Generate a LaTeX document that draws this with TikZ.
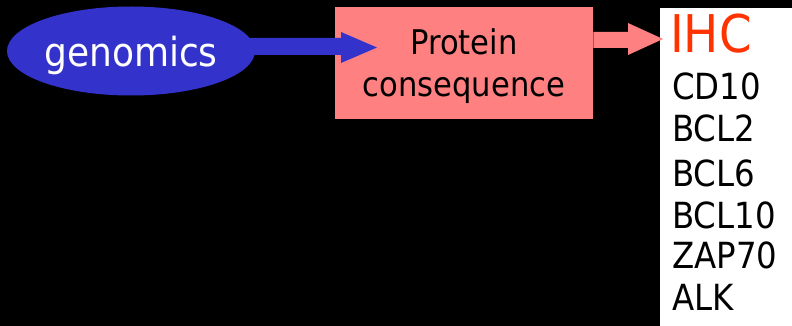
\documentclass[tikz,border=0pt]{standalone}
\usepackage{fontspec}
\setmainfont{DejaVu Sans Condensed}
\usetikzlibrary{shapes.geometric}
\definecolor{ovalblue}{HTML}{3333CC}
\definecolor{boxpink}{HTML}{FF8080}
\definecolor{ihcred}{HTML}{FF3300}
\tikzset{
  lbl/.style={anchor=base west,inner sep=0pt,font=\fontsize{36}{40}\selectfont,text=black},
  ptxt/.style={anchor=base,inner sep=0pt,font=\fontsize{34}{38}\selectfont,text=black},
}
\begin{document}
\begin{tikzpicture}[x=1pt,y=-1pt]
\fill[black] (0,0) rectangle (792,326);
\useasboundingbox (0,0) rectangle (792,326);
% shapes
\node[ellipse,fill=ovalblue,minimum width=248pt,minimum height=89pt,inner sep=0pt] (geno) at (131,51) {};
\node[rectangle,fill=boxpink,minimum width=258pt,minimum height=112pt,inner sep=0pt,anchor=north west] (prot) at (335,7) {};
\node[rectangle,fill=white,minimum width=132pt,minimum height=318pt,inner sep=0pt,anchor=north west] (list) at (660,8) {};
% connectors
\fill[ovalblue] ([xshift=-20pt]geno.east |- 0,38) -- (341,38) -- (341,32) -- (377,47.5) -- (341,63) -- (341,55) -- ([xshift=-20pt]geno.east |- 0,55) -- cycle;
\fill[boxpink] (prot.east |- 0,32) -- (628,32) -- (628,23) -- (663,39) -- (628,55) -- (628,48) -- (prot.east |- 0,48) -- cycle;
% texts
\node[anchor=base,inner sep=0pt,text=white,font=\fontsize{40}{42}\selectfont] (genotxt) at (131,67) {genomics};
\node[ptxt] (p1) at (464,55) {Protein};
\node[ptxt] (p2) at (464,97) {consequence};
\node[anchor=base west,inner sep=0pt,text=ihcred,font=\fontsize{52}{56}\selectfont] (ihc) at (670,53) {IHC};
\node[lbl] (l1) at (672,100) {CD10};
\node[lbl] (l2) at (672,142) {BCL2};
\node[lbl] (l3) at (672,186) {BCL6};
\node[lbl] (l4) at (672,228) {BCL10};
\node[lbl] (l5) at (672,268) {ZAP70};
\node[lbl] (l6) at (672,310) {ALK};
\end{tikzpicture}
\end{document}
